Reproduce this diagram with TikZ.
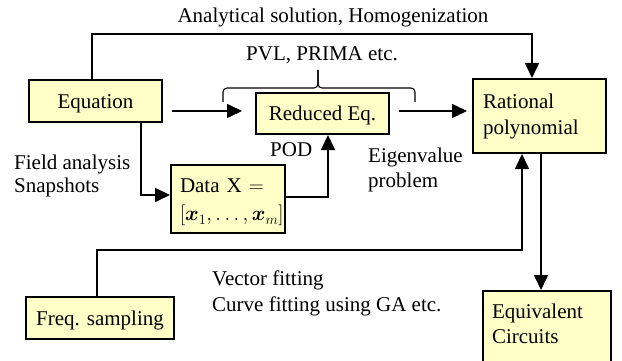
\documentclass[tikz,border=0pt]{standalone}
\usepackage{fontspec}
\usepackage{bm}
\setmainfont{Liberation Serif}
\usetikzlibrary{arrows.meta,calc}

\begin{document}
\begin{tikzpicture}[x=1pt,y=-1pt,
  every node/.style={font=\fontsize{21}{26}\selectfont},
  box/.style={draw=black, line width=2pt, fill=yellowbox, inner sep=0pt},
  onebox/.style={box, text height=16pt, text depth=1pt},
  lbl/.style={anchor=base west, inner sep=0pt, align=left},
  conn/.style={line width=1.6pt},
  arr/.style={conn, -{Triangle[width=14pt,length=15pt]}},
  bracestroke/.style={line width=1.1pt, rounded corners=4pt}
]
\definecolor{yellowbox}{RGB}{255,255,200}
\clip (0,0) rectangle (622,361);

% boxes
\node[onebox, minimum width=133pt, minimum height=42pt] (eq) at (95.5,101) {Equation};
\node[onebox, minimum width=133pt, minimum height=41pt] (red) at (322.5,113.5) {Reduced Eq.};
\node[box, minimum width=133pt, minimum height=74pt, text width=113pt, align=left,
      text height=16pt, text depth=30pt] (rat) at (539.5,116) {Rational\\polynomial};
\node[box, minimum width=114pt, minimum height=68pt, text width=96pt, align=left,
      text height=16pt, text depth=28pt] (data) at (228,199) {Data X $=$\\[2pt]$[\bm{x}_1,\dots,\bm{x}_m]$};
\node[onebox, minimum width=148pt, minimum height=42pt] (freq) at (100,318) {Freq. sampling};
\node[box, minimum width=128pt, minimum height=75pt, text width=110pt, align=left,
      text height=15pt, text depth=36pt] (equiv) at (547,328.5) {Equivalent\\[-1pt]Circuits};

% labels
\node[anchor=base, inner sep=0pt] (tAna) at (333,23) {Analytical solution, Homogenization};
\node[anchor=base, inner sep=0pt] (tPVL) at (322,61) {PVL, PRIMA etc.};
\node[lbl] (tField) at (14,193) {Field analysis\\[-2pt]Snapshots};
\node[lbl] (tPOD) at (270,157) {POD};
\node[lbl] (tEig) at (368,187) {Eigenvalue\\[-1pt]problem};
\node[lbl] (tVec) at (212,311) {Vector fitting\\Curve fitting using GA etc.};

% routing points
\coordinate (t1) at (92,34);
\coordinate (t2) at (532,34);
\coordinate (m1) at (172,111);
\coordinate (c1) at (141,195);
\coordinate (c2) at (328,197);
\coordinate (c3) at (97,250);
\coordinate (c4) at (522,250);
\coordinate (c5) at (541,0);

% connectors
\draw[arr] (eq.north -| t1) |- (t2) -- (t2 |- rat.north);
\draw[arr, shorten >=13pt] (m1) -- (m1 -| red.west);
\draw[arr, shorten <=9pt, shorten >=5pt] (m1 -| red.east) -- (m1 -| rat.west);
\draw[arr] (c1 |- eq.south) |- (c1 -| data.west);
\draw[arr] (c2 -| data.east) -| (c2 |- red.south);
\draw[arr] (c3 |- freq.north) |- (c4) -- (c4 |- rat.south);
\draw[arr] (c5 |- rat.south) -- (c5 |- equiv.north);

% brace over the reduction step
\coordinate (bl) at (223,102);
\coordinate (br) at (415,102);
\coordinate (bm) at (318,88);
\coordinate (bt) at (318,70);
\draw[bracestroke] (bl) |- (bm) -- (bt);
\draw[bracestroke] (br) |- (bm) -- (bt);
\end{tikzpicture}
\end{document}
